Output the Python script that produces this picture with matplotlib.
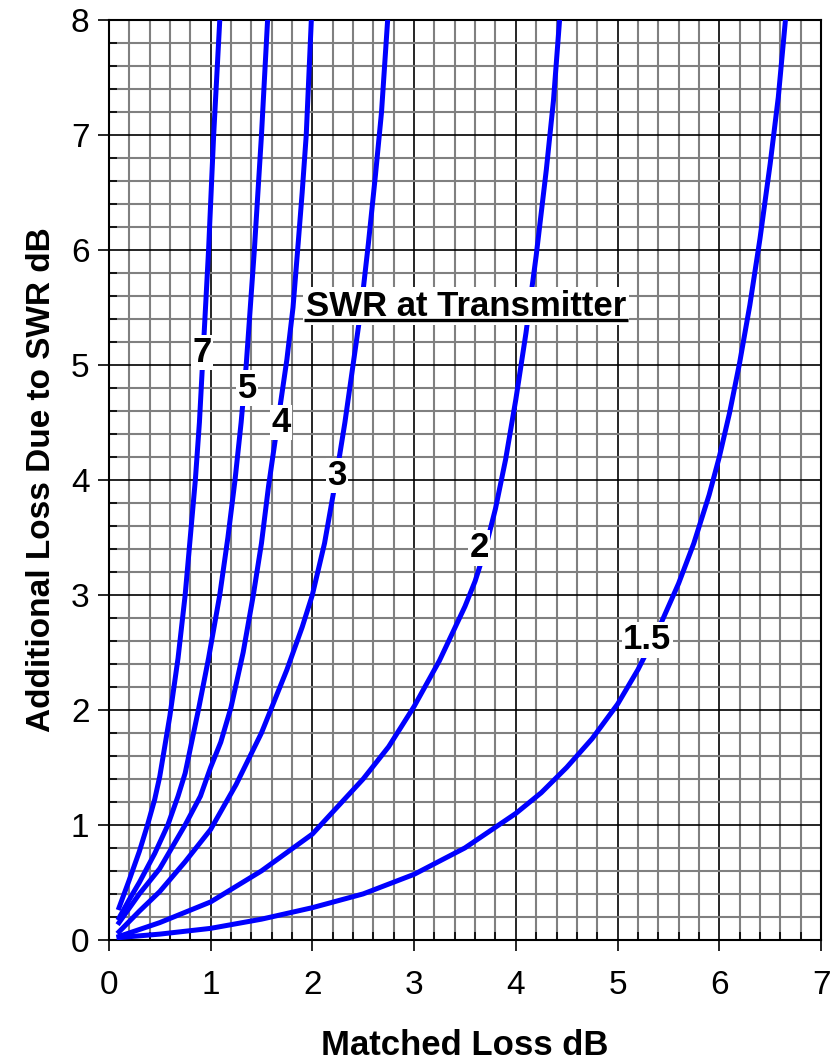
import matplotlib
matplotlib.use("Agg")
import matplotlib.pyplot as plt
from matplotlib.ticker import MultipleLocator

plt.rcParams["font.family"] = ["Liberation Sans", "DejaVu Sans"]

# curvas: perdida adaptada (x) vs perdida adicional (y)
swr_15_x = [0.1, 0.5, 1.0, 1.5, 2.0, 2.5, 3.0, 3.5, 4.0, 4.25, 4.5, 4.75, 5.0, 5.2, 5.4, 5.6,
            5.75, 5.9, 6.0, 6.1, 6.2, 6.3, 6.4, 6.5, 6.58, 6.65]
swr_15_y = [0.02, 0.05, 0.1, 0.18, 0.28, 0.4, 0.57, 0.8, 1.1, 1.28, 1.5, 1.75, 2.05, 2.35, 2.7, 3.1,
            3.45, 3.87, 4.2, 4.58, 5.02, 5.52, 6.1, 6.75, 7.33, 8.0]

swr_2_x = [0.1, 0.5, 1.0, 1.5, 2.0, 2.5, 2.75, 3.0, 3.25, 3.5, 3.6, 3.7, 3.8, 3.9, 4.0, 4.1, 4.2,
           4.3, 4.37, 4.43]
swr_2_y = [0.03, 0.15, 0.33, 0.6, 0.92, 1.4, 1.68, 2.03, 2.43, 2.9, 3.12, 3.4, 3.75, 4.18, 4.7, 5.28,
           5.95, 6.7, 7.3, 8.0]

swr_3_x = [0.1, 0.3, 0.5, 0.75, 1.0, 1.25, 1.5, 1.75, 1.9, 2.0, 2.12, 2.22, 2.32, 2.4, 2.48, 2.55,
           2.62, 2.68, 2.74]
swr_3_y = [0.07, 0.25, 0.42, 0.68, 0.96, 1.35, 1.8, 2.35, 2.72, 3.0, 3.45, 3.95, 4.5, 5.0, 5.5, 6.05,
           6.65, 7.2, 8.0]

swr_4_x = [0.1, 0.3, 0.5, 0.75, 0.9, 1.0, 1.1, 1.2, 1.32, 1.42, 1.5, 1.57, 1.66, 1.75, 1.81, 1.86,
           1.9, 1.94, 1.99]
swr_4_y = [0.15, 0.4, 0.62, 1.0, 1.25, 1.5, 1.72, 2.02, 2.5, 3.0, 3.45, 3.95, 4.5, 5.05, 5.5, 6.05,
           6.5, 7.0, 8.0]

swr_5_x = [0.1, 0.2, 0.3, 0.45, 0.58, 0.68, 0.75, 0.88, 0.98, 1.09, 1.17, 1.24, 1.3, 1.35, 1.39,
           1.43, 1.5, 1.56]
swr_5_y = [0.19, 0.35, 0.5, 0.75, 1.0, 1.25, 1.45, 2.0, 2.45, 3.0, 3.5, 4.0, 4.5, 5.0, 5.5,
           6.0, 7.0, 8.0]

swr_7_x = [0.1, 0.2, 0.3, 0.38, 0.45, 0.5, 0.6, 0.68, 0.75, 0.8, 0.85, 0.89, 0.92, 0.95, 0.98,
           1.03, 1.09]
swr_7_y = [0.28, 0.52, 0.77, 1.0, 1.22, 1.42, 1.95, 2.45, 3.0, 3.5, 4.0, 4.5, 5.0, 5.5, 6.0,
           7.0, 8.0]

curvas = [
    (swr_15_x, swr_15_y),
    (swr_2_x, swr_2_y),
    (swr_3_x, swr_3_y),
    (swr_4_x, swr_4_y),
    (swr_5_x, swr_5_y),
    (swr_7_x, swr_7_y),
]

etiquetas = ["1.5", "2", "3", "4", "5", "7"]
etiqueta_x = [5.29, 3.64, 2.24, 1.69, 1.36, 0.92]
etiqueta_y = [2.61, 3.41, 4.04, 4.5, 4.8, 5.11]

titulo_leyenda = "SWR at Transmitter"

fig = plt.figure(figsize=(8.31, 10.62), dpi=100)
ax = fig.add_axes([0.131, 0.115, 0.857, 0.866])

for xs, ys in curvas:
    ax.plot(xs, ys, color="#0000ff", linewidth=3.6, solid_joinstyle="round", zorder=3)

for texto, x, y in zip(etiquetas, etiqueta_x, etiqueta_y):
    ax.text(x, y, texto, fontsize=25, fontweight="bold", ha="center", va="center", zorder=5,
            bbox=dict(facecolor="white", edgecolor="none", pad=1.0))

ax.text(3.51, 5.43, titulo_leyenda, fontsize=25, fontweight="bold", ha="center", va="baseline",
        zorder=5, bbox=dict(facecolor="white", edgecolor="none", pad=2))
ax.plot([1.92, 5.10], [5.39, 5.39], color="black", linewidth=2.4, zorder=6, solid_capstyle="butt")

ax.set_xlim(0, 7)
ax.set_ylim(0, 8)
ax.xaxis.set_major_locator(MultipleLocator(1))
ax.xaxis.set_minor_locator(MultipleLocator(0.2))
ax.yaxis.set_major_locator(MultipleLocator(1))
ax.yaxis.set_minor_locator(MultipleLocator(0.2))

ax.grid(which="minor", color="#808080", linewidth=1.5, zorder=1)
ax.grid(which="major", color="black", linewidth=1.2, zorder=2)
ax.set_axisbelow(True)

ax.tick_params(which="major", direction="out", length=8, width=1.2, labelsize=24, pad=6)
ax.tick_params(axis="x", which="major", pad=14)
ax.tick_params(which="minor", direction="in", length=6, width=1.2)
for lado in ax.spines.values():
    lado.set_linewidth(1.5)
    lado.set_color("black")

ax.set_xlabel("Matched Loss dB", fontsize=25, fontweight="bold", labelpad=20)
ax.set_ylabel("Additional Loss Due to SWR dB", fontsize=24, fontweight="bold", labelpad=10)

fig.savefig("out.png", dpi=100)
